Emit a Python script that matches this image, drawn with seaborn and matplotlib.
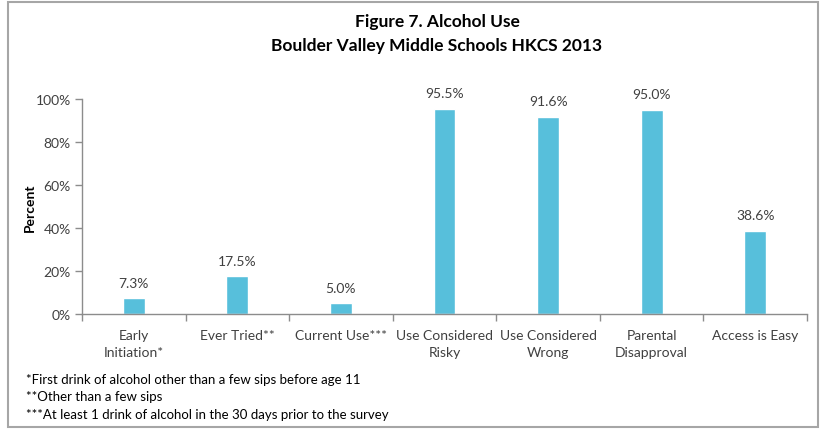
import matplotlib
matplotlib.use("Agg")
import matplotlib.pyplot as plt
import seaborn as sns
import pandas as pd
from matplotlib.patches import Rectangle
from matplotlib.ticker import PercentFormatter, FixedLocator

categories = ["Early\nInitiation*", "Ever Tried**", "Current Use***",
              "Use Considered\nRisky", "Use Considered\nWrong",
              "Parental\nDisapproval", "Access is Easy"]
values = [7.3, 17.5, 5.0, 95.5, 91.6, 95.0, 38.6]
title_lines = ["Figure 7. Alcohol Use", "Boulder Valley Middle Schools HKCS 2013"]
footnotes = ["*First drink of alcohol other than a few sips before age 11",
             "**Other than a few sips",
             "***At least 1 drink of alcohol in the 30 days prior to the survey"]

sns.set_theme(style="white")
plt.rcParams["font.family"] = ["Lato", "DejaVu Sans"]

W, H = 825, 431
fig = plt.figure(figsize=(W / 100, H / 100), dpi=100)
ax = fig.add_axes([82 / W, 1 - 315 / H, (807 - 82) / W, (315 - 100) / H])

df = pd.DataFrame({"category": categories, "value": values})
sns.barplot(data=df, x="category", y="value", color="#57BFDB", saturation=1,
            width=0.21, ax=ax)

ax.set_xlim(-0.5, len(categories) - 0.5)
ax.set_ylim(0, 100)
ax.yaxis.set_major_formatter(PercentFormatter(decimals=0))
ax.set_yticks(range(0, 101, 20))
ax.set_xlabel("")
ax.set_ylabel("Percent", fontsize=10, fontweight="bold", color="#000000", labelpad=0)

axis_grey = "#8C8C8C"
for side in ["top", "right"]:
    ax.spines[side].set_visible(False)
for side in ["left", "bottom"]:
    ax.spines[side].set_color(axis_grey)
    ax.spines[side].set_linewidth(1)

ax.tick_params(axis="y", which="major", length=5, width=1, color=axis_grey,
               labelsize=10, labelcolor="#404040", pad=3, left=True)
ax.tick_params(axis="x", which="major", length=0, labelsize=10,
               labelcolor="#404040", pad=11)
ax.xaxis.set_minor_locator(FixedLocator([i - 0.5 for i in range(len(categories) + 1)]))
ax.tick_params(axis="x", which="minor", length=5, width=1, color=axis_grey, bottom=True)
for lbl in ax.get_xticklabels():
    lbl.set_linespacing(1.45)

for i, v in enumerate(values):
    ax.annotate(f"{v:.1f}%", (i, v), xytext=(0, 7), textcoords="offset points",
                ha="center", va="bottom", fontsize=10, color="#404040")

fig.text(437 / W, 1 - 22 / H, title_lines[0], ha="center", va="center",
         fontsize=12.5, fontweight="bold", color="#000000")
fig.text(437 / W, 1 - 46 / H, title_lines[1], ha="center", va="center",
         fontsize=12.5, fontweight="bold", color="#000000")

for k, note in enumerate(footnotes):
    fig.text(26 / W, 1 - (380 + 17.5 * k) / H, note, ha="left", va="center",
             fontsize=9.5, color="#000000")

fig.patches.append(Rectangle((8 / W, 3 / H), (818 - 8) / W, (428 - 3) / H,
                             transform=fig.transFigure, fill=False,
                             edgecolor="#A6A6A6", linewidth=1.5))

fig.savefig("out.png", dpi=100)
